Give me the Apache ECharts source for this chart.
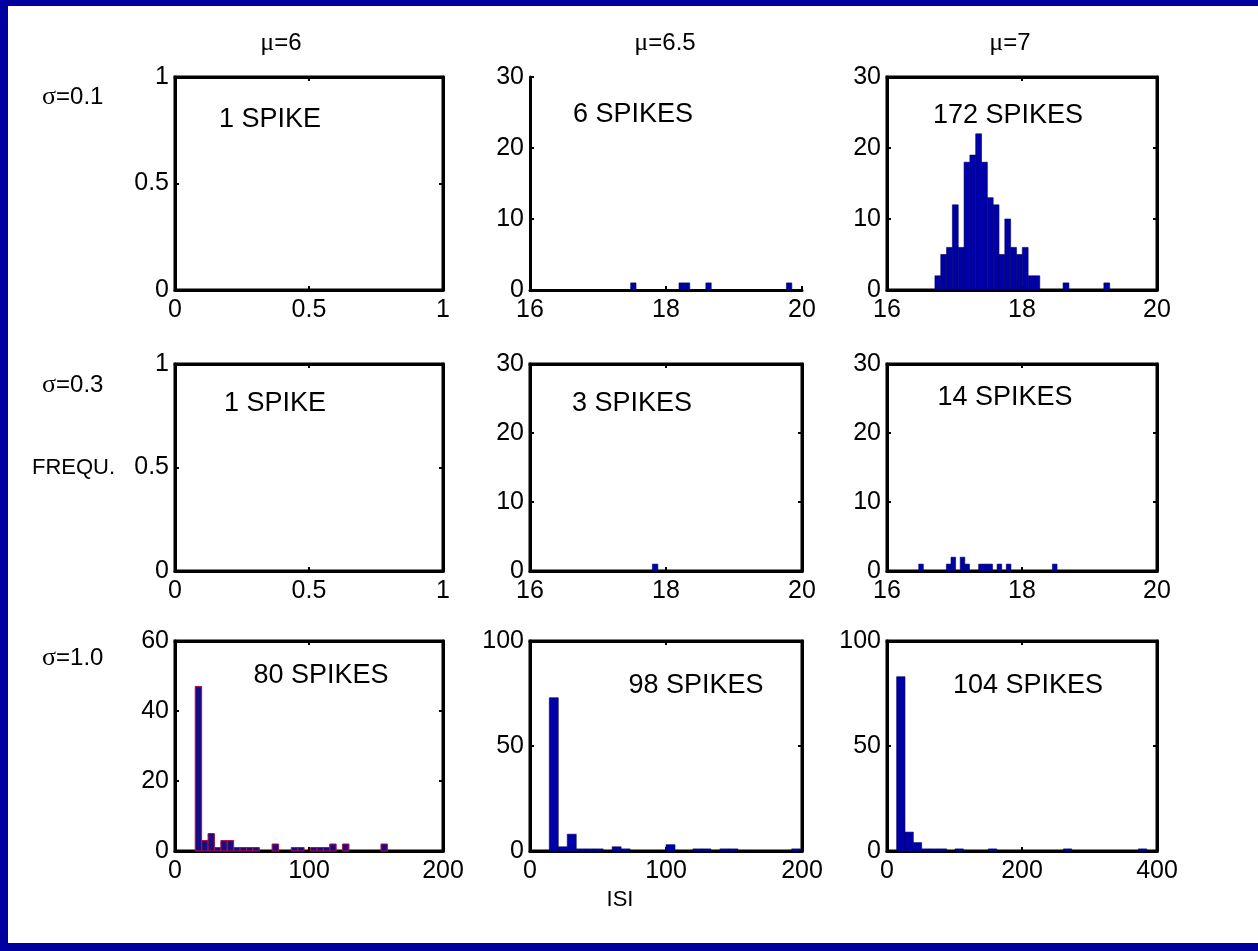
<!DOCTYPE html>
<html>
<head>
<meta charset="utf-8">
<script src="https://cdn.jsdelivr.net/npm/echarts@6/dist/echarts.min.js"></script>
<style>
  html, body { margin: 0; padding: 0; background: #0000a0; width: 1258px; height: 951px; overflow: hidden; }
  #chart { position: absolute; left: 8px; top: 6px; width: 1250px; height: 937px; background: #ffffff; }
</style>
</head>
<body>
<div id="chart"></div>
<script>
// ---------------- DATA ----------------
const muLabels = ['μ=6', 'μ=6.5', 'μ=7'];
const sigmaLabels = ['σ=0.1', 'σ=0.3', 'σ=1.0'];
const spikeLabels = ['1 SPIKE', '6 SPIKES', '172 SPIKES',
                     '1 SPIKE', '3 SPIKES', '14 SPIKES',
                     '80 SPIKES', '98 SPIKES', '104 SPIKES'];
const yAxisName = 'FREQU.';
const xAxisName = 'ISI';

// axis ranges per panel (row-major)
const xMin  = [0, 16, 16,   0, 16, 16,   0,   0,   0];
const xMax  = [1, 20, 20,   1, 20, 20, 200, 200, 400];
const xStep = [0.5, 2, 2, 0.5, 2, 2, 100, 100, 200];
const yMax  = [1, 30, 30,   1, 30, 30,  60, 100, 100];
const yStep = [0.5, 10, 10, 0.5, 10, 10, 20, 50, 50];

// histogram definitions: first bin edge, bin width, counts per bin
const binStart = [0, 17.48, 16.71, 0, 17.80, 16.47, 15.1, 14.2, 14.3];
const binWidth = [0, 0.079, 0.0863, 0, 0.08, 0.0683, 4.78, 6.6, 12.35];

const counts_s01_m6  = [];
const counts_s01_m65 = [1,0,0,0,0,0,0,0,0,1,1,0,0,0,1,0,0,0,0,0,0,0,0,0,0,0,0,0,0,1];
const counts_s01_m7  = [2,5,6,12,6,18,19,22,18,13,12,5,10,6,5,6,2,2,0,0,0,0,1,0,0,0,0,0,0,1];
const counts_s03_m6  = [];
const counts_s03_m65 = [1];
const counts_s03_m7  = [1,0,0,0,0,0,1,2,0,2,1,0,0,1,1,1,0,1,0,1,0,0,0,0,0,0,0,0,0,1];
const counts_s10_m6  = [47,3,5,1,3,3,1,1,1,1,0,0,2,0,0,1,1,0,1,1,1,2,0,2,0,0,0,0,0,2];
const counts_s10_m65 = [73,2,8,1,1,1,0,2,1,0,0,0,0,3,0,0,1,1,0,1,1,0,0,0,0,0,0,1];
const counts_s10_m7  = [83,9,4,1,1,1,0,1,0,0,0,1,0,0,0,0,0,0,0,0,1,0,0,0,0,0,0,0,0,1];

const allCounts = [counts_s01_m6, counts_s01_m65, counts_s01_m7,
                   counts_s03_m6, counts_s03_m65, counts_s03_m7,
                   counts_s10_m6, counts_s10_m65, counts_s10_m7];

// ---------------- LAYOUT (page coordinates) ----------------
const OX = 8, OY = 6;
const colL = [175, 530, 887], colR = [443, 802, 1157];
const rowT = [77, 364, 641],  rowB = [290, 571, 851];
const openPanel = [false, true, false, false, false, false, false, false, false];

const FONT = 'Liberation Sans, Arial, sans-serif';
const SERIF = 'Liberation Serif, Times New Roman, serif';
const AXW = 3;

const grids = [], xAxes = [], yAxes = [], series = [], graphics = [];
const extraX = [], extraY = [];

for (let i = 0; i < 9; i++) {
  const r = Math.floor(i / 3), c = i % 3;
  grids.push({
    left: colL[c] - OX, top: rowT[r] - OY,
    width: colR[c] - colL[c], height: rowB[r] - rowT[r],
    show: !openPanel[i], borderColor: '#000', borderWidth: AXW, backgroundColor: 'transparent'
  });
  const tickStyle = { show: true, inside: true, length: 4, lineStyle: { color: '#000', width: 2 } };
  xAxes.push({
    gridIndex: i, type: 'value', position: 'bottom',
    min: xMin[i], max: xMax[i], interval: xStep[i],
    axisLine: { show: true, onZero: false, lineStyle: { color: '#000', width: AXW } },
    axisTick: tickStyle, splitLine: { show: false },
    axisLabel: { show: true, margin: 8, color: '#000', fontSize: 25, fontFamily: FONT, showMinLabel: true, showMaxLabel: true }
  });
  yAxes.push({
    gridIndex: i, type: 'value', position: 'left',
    min: 0, max: yMax[i], interval: yStep[i],
    axisLine: { show: true, onZero: false, lineStyle: { color: '#000', width: AXW } },
    axisTick: tickStyle, splitLine: { show: false },
    axisLabel: { show: true, margin: 6, color: '#000', fontSize: 25, fontFamily: FONT, showMinLabel: true, showMaxLabel: true }
  });
  if (!openPanel[i]) {
    extraX.push({
      gridIndex: i, type: 'value', position: 'top',
      min: xMin[i], max: xMax[i], interval: xStep[i],
      axisLine: { show: true, onZero: false, lineStyle: { color: '#000', width: AXW } },
      axisTick: tickStyle, axisLabel: { show: false }, splitLine: { show: false }
    });
    extraY.push({
      gridIndex: i, type: 'value', position: 'right',
      min: 0, max: yMax[i], interval: yStep[i],
      axisLine: { show: true, onZero: false, lineStyle: { color: '#000', width: AXW } },
      axisTick: tickStyle, axisLabel: { show: false }, splitLine: { show: false }
    });
  }

  // histogram data: [binLo, binHi, count]
  const data = [];
  allCounts[i].forEach((n, k) => {
    if (n > 0) {
      const lo = binStart[i] + k * binWidth[i];
      data.push([lo, lo + binWidth[i], n]);
    }
  });
  const reddish = (i === 6);
  const style = reddish
    ? { fill: '#1c0a80', stroke: '#b0104a', lineWidth: 1 }
    : { fill: '#0000a8', stroke: '#00005a', lineWidth: 0.6 };
  series.push({
    type: 'custom', xAxisIndex: i, yAxisIndex: i,
    encode: { x: [0, 1], y: 2 },
    data: data, z: 1,
    renderItem: function (params, api) {
      const a = api.coord([api.value(0), api.value(2)]);
      const b = api.coord([api.value(1), 0]);
      return { type: 'rect', shape: { x: a[0], y: a[1], width: b[0] - a[0], height: b[1] - a[1] }, style: style };
    }
  });
}

// annotation texts
const spikePos = [[270,120],[633,115],[1008,116],[275,404],[632,404],[1005,398],[321,676],[696,686],[1028,686]];
spikeLabels.forEach((t, i) => {
  graphics.push({ type: 'text', x: spikePos[i][0] - OX, y: spikePos[i][1] - OY, z: 10,
    style: { text: t, font: '27px ' + FONT, fill: '#000', align: 'center', verticalAlign: 'middle' } });
});
const muPos = [[281,43],[665,43],[1010,43]];
muLabels.forEach((t, i) => {
  const rest = t.slice(1);
  graphics.push({ type: 'text', x: muPos[i][0] - OX, y: muPos[i][1] - OY, z: 10,
    style: { text: '{g|' + t[0] + '}{n|' + rest + '}', align: 'center', verticalAlign: 'middle',
      rich: { g: { fontFamily: SERIF, fontSize: 26, fill: '#000' }, n: { fontFamily: FONT, fontSize: 24, fill: '#000' } } } });
});
const sigPos = [[42,97],[42,385],[42,658]];
sigmaLabels.forEach((t, i) => {
  const rest = t.slice(1);
  graphics.push({ type: 'text', x: sigPos[i][0] - OX, y: sigPos[i][1] - OY, z: 10,
    style: { text: '{g|' + t[0] + '}{n|' + rest + '}', align: 'left', verticalAlign: 'middle',
      rich: { g: { fontFamily: SERIF, fontSize: 26, fill: '#000' }, n: { fontFamily: FONT, fontSize: 24, fill: '#000' } } } });
});
graphics.push({ type: 'text', x: 32 - OX, y: 468 - OY, z: 10,
  style: { text: yAxisName, font: '22px ' + FONT, fill: '#000', align: 'left', verticalAlign: 'middle' } });
graphics.push({ type: 'text', x: 620 - OX, y: 900 - OY, z: 10,
  style: { text: xAxisName, font: '22px ' + FONT, fill: '#000', align: 'center', verticalAlign: 'middle' } });

const chart = echarts.init(document.getElementById('chart'), null, { renderer: 'canvas' });
chart.setOption({
  animation: false,
  backgroundColor: '#ffffff',
  grid: grids,
  xAxis: xAxes.concat(extraX),
  yAxis: yAxes.concat(extraY),
  series: series,
  graphic: graphics
});
</script>
</body>
</html>
